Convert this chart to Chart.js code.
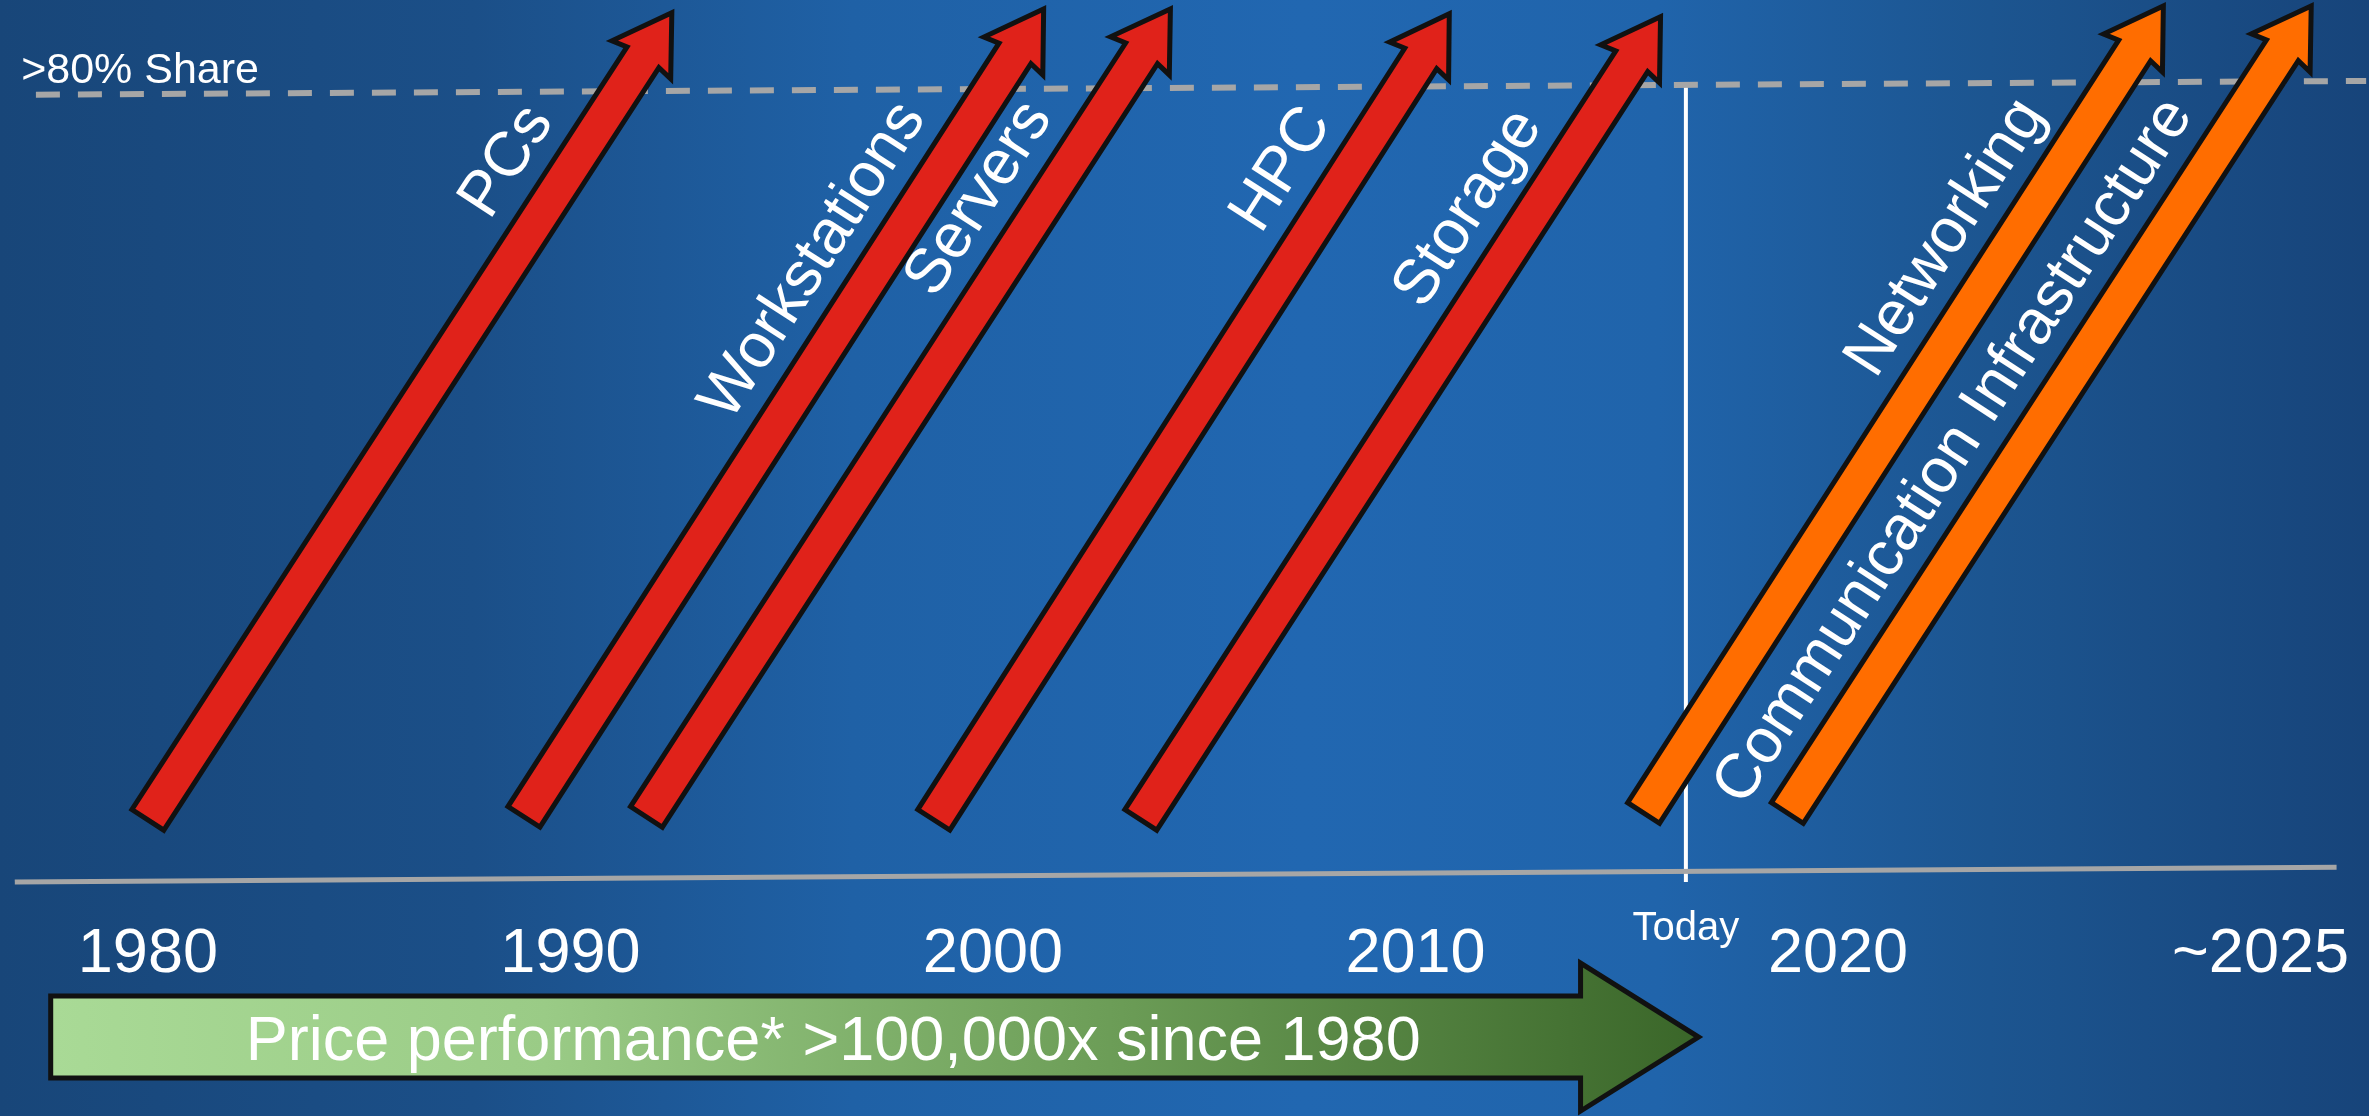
<!DOCTYPE html>
<html>
<head>
<meta charset="utf-8">
<script src="https://cdn.jsdelivr.net/npm/chart.js@4.4.1/dist/chart.umd.min.js"></script>
<style>
  html, body { margin: 0; padding: 0; background: #1c5590; overflow: hidden; }
  #wrap { width: 2369px; height: 1116px; position: relative; }
</style>
</head>
<body>
<div id="wrap"><canvas id="timeline"></canvas></div>
<script>
/* ----- data ----- */
const categories = ['PCs', 'Workstations', 'Servers', 'HPC', 'Storage', 'Networking', 'Communication Infrastructure'];
const startYear  = [1980.0, 1988.9, 1991.8, 1998.6, 2003.5, 2015.4, 2018.8];
const endYear    = [1992.4, 2001.2, 2004.2, 2010.8, 2015.8, 2027.7, 2031.2];
const startShare = [5.8, 6.1, 6.1, 5.8, 5.8, 6.5, 6.5];
const endShare   = [87.6, 88.0, 88.0, 87.5, 87.2, 88.3, 88.3];
const isFuture   = [false, false, false, false, false, true, true];

const tickYears  = [1980, 1990, 2000, 2010, 2020, 2030];
const tickLabels = ['1980', '1990', '2000', '2010', '2020', '~2025'];

const shareYears = [1977.35, 2032.5];
const shareLine  = [79.3, 80.7];      // ">80% Share" dashed line
const axisYears  = [1976.85, 2031.8];
const axisLine   = [-0.5, 1.0];       // grey time axis
const todayYear  = 2016.4;
const todayRange = [-0.5, 80.6];
const priceSpan  = [1977.7, 2016.7];  // price performance arrow
const priceText  = 'Price performance* >100,000x since 1980';

const FONT = "'Liberation Sans', Arial, Helvetica, sans-serif";

/* ----- arrows ----- */
function drawArrow(ctx, x0, y0, x1, y1, fill) {
  const len = Math.hypot(x1 - x0, y1 - y0);
  const dx = (x1 - x0) / len, dy = (y1 - y0) / len;
  const px = -dy, py = dx;
  const w = 19, hw = 35, hl = 56, sweep = 3;
  const bx = x1 - dx * hl, by = y1 - dy * hl;
  ctx.beginPath();
  ctx.moveTo(x0 + px * w, y0 + py * w);
  ctx.lineTo(bx + dx * sweep + px * w, by + dy * sweep + py * w);
  ctx.lineTo(bx + px * hw, by + py * hw);
  ctx.lineTo(x1, y1);
  ctx.lineTo(bx - px * hw, by - py * hw);
  ctx.lineTo(bx + dx * sweep - px * w, by + dy * sweep - py * w);
  ctx.lineTo(x0 - px * w, y0 - py * w);
  ctx.closePath();
  ctx.fillStyle = fill;
  ctx.fill();
  ctx.lineWidth = 5;
  ctx.lineJoin = 'miter';
  ctx.miterLimit = 10;
  ctx.strokeStyle = '#111';
  ctx.stroke();
}

const slidePlugin = {
  id: 'slide',
  beforeDraw(chart) {
    const { ctx, width, height } = chart;
    const g = ctx.createLinearGradient(0, 0, width, 0);
    g.addColorStop(0, '#184679');
    g.addColorStop(0.2, '#1b4f88');
    g.addColorStop(0.36, '#1f61a6');
    g.addColorStop(0.55, '#2167b1');
    g.addColorStop(0.7, '#2064ab');
    g.addColorStop(0.84, '#1c5590');
    g.addColorStop(1, '#17447a');
    ctx.save();
    ctx.fillStyle = g;
    ctx.fillRect(0, 0, width, height);
    ctx.restore();
  },
  afterDatasetsDraw(chart) {
    const { ctx } = chart;
    const xs = chart.scales.x, ys = chart.scales.y;
    ctx.save();

    // growth arrows + their labels
    chart.data.datasets.forEach((ds, i) => {
      if (!ds.arrow) return;
      const pts = chart.getDatasetMeta(i).data;
      const x0 = pts[0].x, y0 = pts[0].y, x1 = pts[1].x, y1 = pts[1].y;
      drawArrow(ctx, x0, y0, x1, y1, ds.backgroundColor);
      const len = Math.hypot(x1 - x0, y1 - y0);
      const dx = (x1 - x0) / len, dy = (y1 - y0) / len;
      const ex = x1 - dx * 155 + dy * 57;
      const ey = y1 - dy * 155 - dx * 57;
      ctx.save();
      ctx.translate(ex, ey);
      ctx.rotate(Math.atan2(dy, dx));
      ctx.fillStyle = '#fff';
      ctx.font = '63px ' + FONT;
      ctx.textAlign = 'right';
      ctx.textBaseline = 'middle';
      ctx.fillText(ds.label, 0, 0);
      ctx.restore();
    });

    // ">80% Share"
    ctx.fillStyle = '#fff';
    ctx.font = '43px ' + FONT;
    ctx.textAlign = 'left';
    ctx.textBaseline = 'alphabetic';
    ctx.fillText('>80% Share', xs.getPixelForValue(1977.0), ys.getPixelForValue(shareLine[0]) - 12);

    // "Today"
    const tx = xs.getPixelForValue(todayYear);
    const base = ys.getPixelForValue(0);
    ctx.font = '40px ' + FONT;
    ctx.textAlign = 'center';
    ctx.fillText('Today', tx, base + 63);

    // price performance arrow
    const l = xs.getPixelForValue(priceSpan[0]);
    const r = xs.getPixelForValue(priceSpan[1]);
    const cy = base + 160;
    const hb = r - 118;
    ctx.beginPath();
    ctx.moveTo(l, cy - 41);
    ctx.lineTo(hb, cy - 41);
    ctx.lineTo(hb, cy - 74);
    ctx.lineTo(r, cy);
    ctx.lineTo(hb, cy + 74);
    ctx.lineTo(hb, cy + 41);
    ctx.lineTo(l, cy + 41);
    ctx.closePath();
    const gg = ctx.createLinearGradient(l, 0, r, 0);
    gg.addColorStop(0, '#a9da96');
    gg.addColorStop(0.3, '#9acb86');
    gg.addColorStop(0.65, '#6b9c56');
    gg.addColorStop(1, '#3a6629');
    ctx.fillStyle = gg;
    ctx.fill();
    ctx.lineWidth = 5;
    ctx.lineJoin = 'miter';
    ctx.strokeStyle = '#111';
    ctx.stroke();
    ctx.fillStyle = '#fff';
    ctx.font = '63px ' + FONT;
    ctx.textAlign = 'left';
    ctx.fillText(priceText, l + 195, cy + 23);

    ctx.restore();
  }
};

const arrowSets = categories.map((name, i) => ({
  label: name,
  arrow: true,
  data: [{ x: startYear[i], y: startShare[i] }, { x: endYear[i], y: endShare[i] }],
  showLine: false,
  pointRadius: 0,
  backgroundColor: isFuture[i] ? '#ff6d00' : '#e0221a',
  clip: false
}));

new Chart(document.getElementById('timeline'), {
  type: 'line',
  data: {
    datasets: [
      {
        label: 'share',
        data: shareYears.map((x, i) => ({ x, y: shareLine[i] })),
        borderColor: '#a6a6a6', borderWidth: 6, borderDash: [24, 18],
        pointRadius: 0, clip: false
      },
      {
        label: 'axis',
        data: axisYears.map((x, i) => ({ x, y: axisLine[i] })),
        borderColor: '#a6a6a6', borderWidth: 5,
        pointRadius: 0, clip: false
      },
      {
        label: 'today',
        data: todayRange.map(y => ({ x: todayYear, y })),
        borderColor: '#ffffff', borderWidth: 4,
        pointRadius: 0, clip: false
      },
      ...arrowSets
    ]
  },
  options: {
    responsive: true,
    maintainAspectRatio: false,
    animation: false,
    devicePixelRatio: 1,
    layout: { padding: { left: 0, right: 0, top: 0, bottom: 103.6 } },
    plugins: { legend: { display: false }, tooltip: { enabled: false } },
    scales: {
      x: {
        type: 'linear', min: 1976.5, max: 2032.5,
        grid: { display: false, drawTicks: false },
        border: { display: false },
        afterBuildTicks: s => { s.ticks = tickYears.map(v => ({ value: v })); },
        ticks: {
          autoSkip: false, maxRotation: 0, padding: 20,
          color: '#ffffff',
          font: { family: FONT, size: 63 },
          callback: v => tickLabels[tickYears.indexOf(v)]
        }
      },
      y: { display: false, min: -2, max: 88.9 }
    }
  },
  plugins: [slidePlugin]
});
</script>
</body>
</html>
